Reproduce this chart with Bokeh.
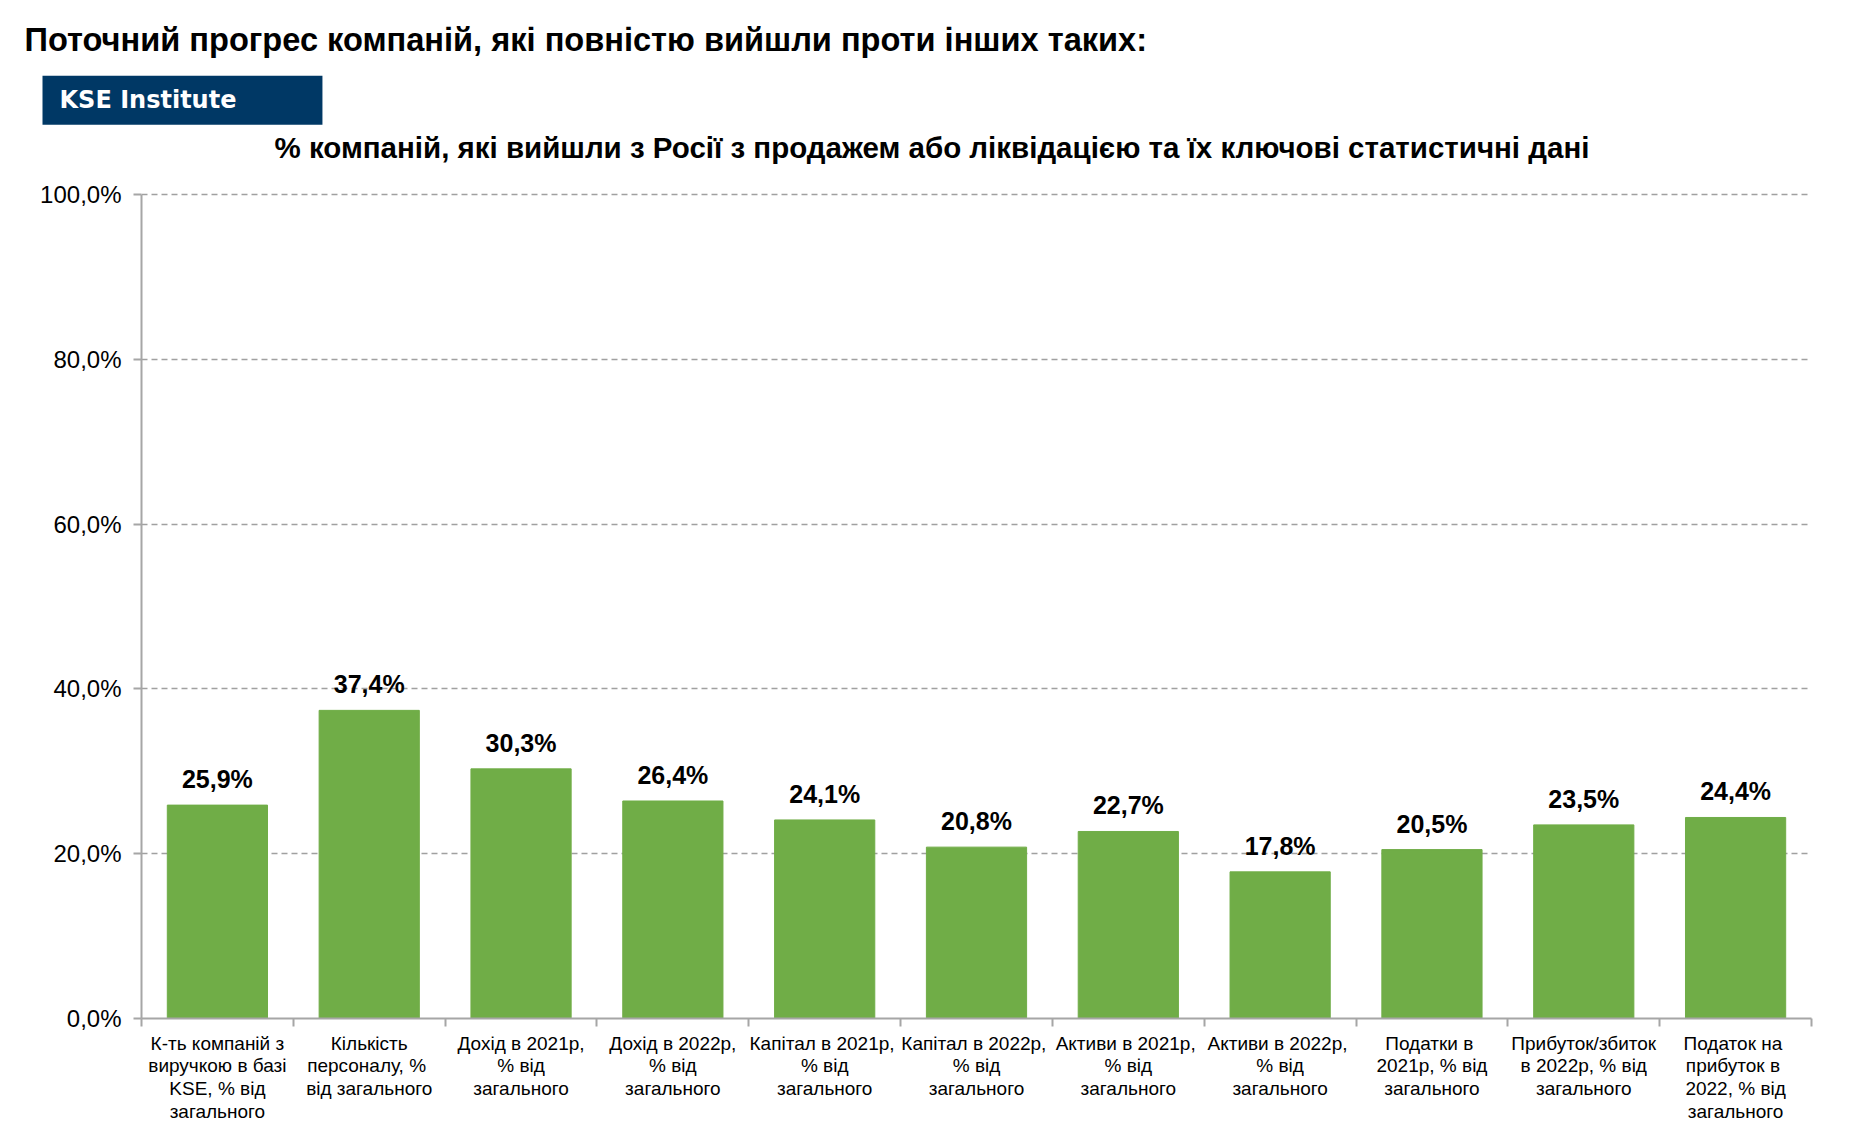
from bokeh.plotting import figure
from bokeh.models import (Range1d, FixedTicker, Title, ColumnDataSource)
from bokeh.embed import file_html
from bokeh.resources import INLINE
from bokeh.core.properties import value

# ---- data ----
categories = [
    "К-ть компаній з\nвиручкою в базі\nKSE, % від\nзагального",
    "Кількість\nперсоналу,  %\nвід загального",
    "Дохід в 2021р,\n% від\nзагального",
    "Дохід в 2022р,\n% від\nзагального",
    "Капітал  в 2021р,\n% від\nзагального",
    "Капітал  в 2022р,\n% від\nзагального",
    "Активи  в 2021р,\n% від\nзагального",
    "Активи  в 2022р,\n% від\nзагального",
    "Податки  в\n2021р, % від\nзагального",
    "Прибуток/збиток\nв 2022р, % від\nзагального",
    "Податок  на\nприбуток  в\n2022, % від\nзагального",
]
values = [25.9, 37.4, 30.3, 26.4, 24.1, 20.8, 22.7, 17.8, 20.5, 23.5, 24.4]
y_ticks = [0, 20, 40, 60, 80, 100]
y_tick_labels = ["0,0%", "20,0%", "40,0%", "60,0%", "80,0%", "100,0%"]

title_text = "Поточний прогрес компаній, які повністю вийшли проти інших таких:"
subtitle_text = "% компаній, які вийшли з Росії з продажем або ліквідацією та їх ключові статистичні дані"
brand_text = "KSE Institute"

FONT = "Liberation Sans"
GREEN = "#70AD47"
AXIS_GRAY = "#A6A6A6"
NAVY = "#003865"

W, H = 1848, 1130
LEFT, FRAME_W = 141, 1670
TOP, FRAME_H = 190, 828

n = len(categories)
centers = [i + 0.5 for i in range(n)]
labels = [f"{v:.1f}".replace(".", ",") + "%" for v in values]
src = ColumnDataSource(dict(x=centers, top=values, label=labels))

p = figure(width=W, height=H, output_backend="svg", toolbar_location=None, title=None,
           x_range=Range1d(0, n), y_range=Range1d(0, 100.5),
           min_border_left=LEFT, min_border_right=W - LEFT - FRAME_W,
           min_border_top=TOP, min_border_bottom=H - TOP - FRAME_H)
p.outline_line_color = None
p.background_fill_color = "white"
p.border_fill_color = "white"

p.vbar(x="x", top="top", width=0.66, source=src, fill_color=GREEN, line_color=GREEN)
p.text(x="x", y="top", text="label", source=src, text_align="center",
       text_baseline="alphabetic", y_offset=-26, text_font=value(FONT),
       text_font_size="25px", text_font_style="bold", text_color="#000000")

xa = p.xaxis[0]
xa.ticker = FixedTicker(ticks=centers, minor_ticks=list(range(n + 1)))
xa.major_label_overrides = {c: lab for c, lab in zip(centers, categories)}
xa.major_tick_line_color = None
xa.major_tick_out = 0
xa.major_tick_in = 0
xa.minor_tick_line_color = AXIS_GRAY
xa.minor_tick_line_width = 2
xa.minor_tick_out = 8
xa.minor_tick_in = 0
xa.axis_line_color = AXIS_GRAY
xa.axis_line_width = 2
xa.major_label_standoff = 6
xa.major_label_text_font = FONT
xa.major_label_text_font_size = "19px"
xa.major_label_text_line_height = 1.08
xa.major_label_text_color = "#000000"

ya = p.yaxis[0]
ya.ticker = FixedTicker(ticks=y_ticks, minor_ticks=[])
ya.bounds = (0, 100)
ya.major_label_overrides = {t: lab for t, lab in zip(y_ticks, y_tick_labels)}
ya.axis_line_color = AXIS_GRAY
ya.axis_line_width = 2
ya.major_tick_line_color = AXIS_GRAY
ya.major_tick_line_width = 2
ya.major_tick_out = 8
ya.major_tick_in = 0
ya.minor_tick_line_color = None
ya.major_label_standoff = 12
ya.major_label_text_font = FONT
ya.major_label_text_font_size = "24px"
ya.major_label_text_color = "#000000"

p.xgrid.grid_line_color = None
p.ygrid.grid_line_color = "#A0A0A0"
p.ygrid.grid_line_dash = "6 4"
p.ygrid.grid_line_width = 1.5


def set_padding(t, left, right, top, bottom):
    try:
        t.padding = dict(left=left, right=right, top=top, bottom=bottom)
    except Exception:
        t.padding = (top, right, bottom, left)


# ---- header: stacked titles (first added = closest to the plot) ----
sub = Title(text=subtitle_text, align="left", offset=274 - LEFT, standoff=0,
            text_font=FONT, text_font_size="29.5px", text_font_style="bold",
            text_color="#000000")
set_padding(sub, 0, 0, 0, 27)
brand = Title(text=brand_text, align="left", offset=42 - LEFT, standoff=7.4,
              text_font="DejaVu Sans", text_font_size="24px", text_font_style="bold",
              text_baseline="middle",
              text_color="#FFFFFF", background_fill_color=NAVY, background_fill_alpha=1.0)
set_padding(brand, 17, 86, 10, 11)
main = Title(text=title_text, align="left", offset=24 - LEFT, standoff=0,
             text_font=FONT, text_font_size="32.6px", text_font_style="bold",
             text_color="#000000")
set_padding(main, 0, 0, 0, 13)
p.add_layout(sub, "above")
p.add_layout(brand, "above")
p.add_layout(main, "above")

open("out.html", "w").write(file_html(p, INLINE))
